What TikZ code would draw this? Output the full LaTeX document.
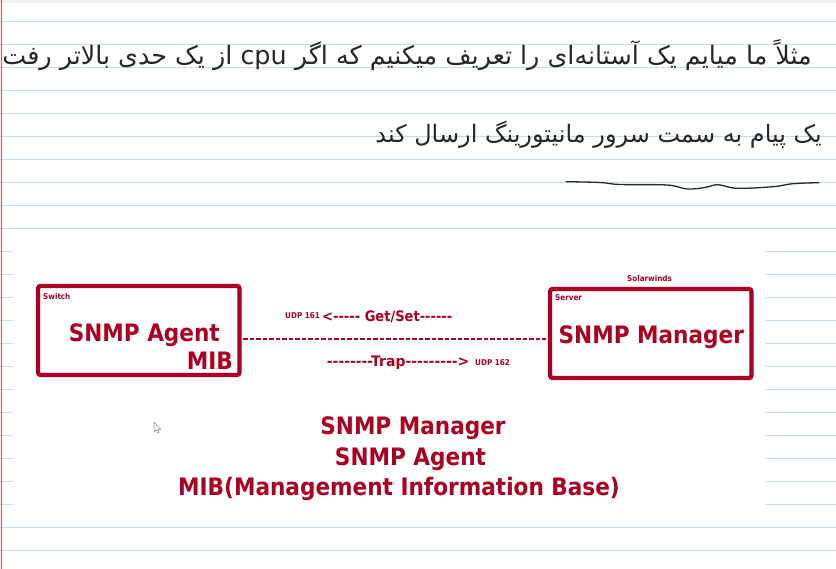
\documentclass[tikz,border=0pt]{standalone}
\usepackage{fontspec}
\TeXXeTstate=1
\newfontfamily\arabicfont[Script=Arabic]{DejaVu Sans}
\newfontfamily\lbl[FakeStretch=0.9,Ligatures=TeXOff]{DejaVu Sans}
\definecolor{snmpred}{RGB}{170,0,35}
\definecolor{ruleblue}{RGB}{188,226,248}
\definecolor{marginred}{RGB}{235,80,80}
\definecolor{ink}{RGB}{40,40,40}
\tikzset{
  netbox/.style={draw=snmpred, line width=4.3pt, rounded corners=2.5pt,
    minimum width=201.5pt, minimum height=89pt, inner sep=0pt},
  bigtxt/.style={text=snmpred, font=\lbl\bfseries\fontsize{24}{28}\selectfont, inner sep=0pt},
  smalltxt/.style={text=snmpred, font=\lbl\bfseries\fontsize{8}{9}\selectfont, inner sep=0pt},
  midtxt/.style={text=snmpred, font=\lbl\bfseries\fontsize{14.5}{16}\selectfont, inner sep=0pt},
  handtxt/.style={text=ink, font=\arabicfont\fontsize{25.4}{30}\selectfont, inner sep=0pt}
}
\begin{document}
\begin{tikzpicture}[x=1pt,y=-1pt]
\useasboundingbox (0,0) rectangle (836,569);
\fill[white] (0,0) rectangle (836,569);
\fill[black!5] (0,0) rectangle (836,3);
\foreach \k in {0,...,23}
  \draw[ruleblue, line width=1.1pt] (0,21.7+23*\k) -- (836,21.7+23*\k);
\fill[white] (13,240) rectangle (765,517);
\draw[marginred, line width=1.5pt] (1.6,0) -- (1.6,569);

% handwritten notes
\node[handtxt, anchor=east] (note1) at (812,55)
  {\beginR مثلاً ما میایم یک آستانه‌ای را تعریف میکنیم که اگر \beginL cpu\endL{} از یک حدی بالاتر رفت\endR};
\node[handtxt, anchor=east, font=\arabicfont\fontsize{24}{28}\selectfont] (note2) at (822,135)
  {\beginR یک پیام به سمت سرور مانیتورینگ ارسال کند\endR};
\draw[ink, line width=1.3pt, line cap=round] plot[smooth, tension=0.6] coordinates
  {(566,181.7) (600,182.5) (620,184.5) (667,185) (687,189) (705,187.5) (718,184.7) (737,188.3) (773,186.7) (793,183.7) (819,182.7)};

% boxes
\node[netbox] (agent) at (138.75,330.5) {};
\node[netbox] (manager) at (650.75,333.5) {};

\node[smalltxt, anchor=base west] (switch) at (43,300) {Switch};
\node[bigtxt, anchor=base east] (agentlbl) at (220,341.7) {SNMP Agent};
\node[bigtxt, anchor=base east] (miblbl) at (233,370) {MIB};
\node[smalltxt, anchor=base west] (server) at (555,301) {Server};
\node[smalltxt, anchor=base] (solar) at (649.5,282) {Solarwinds};
\node[bigtxt, anchor=base] (mgrlbl) at (651.3,344) {SNMP Manager};

% link
\coordinate (linky) at (0,339);
\draw[snmpred, line width=2.3pt, dash pattern=on 4.5pt off 2pt, shorten <=1.5pt, shorten >=1.5pt]
  (agent.east |- linky) -- (manager.west |- linky);
\node[smalltxt, anchor=base west] (udp161) at (285,319) {UDP 161};
\node[midtxt, anchor=base west] (getset) at (322,322) {<----- Get/Set------};
\node[midtxt, anchor=base west, transform shape, xscale=1.07] (trap) at (326.7,366.5) {--------Trap--------->};
\node[smalltxt, anchor=base west] (udp162) at (475,366) {UDP 162};

% summary
\node[bigtxt, anchor=base] (sum1) at (413,435) {SNMP Manager};
\node[bigtxt, anchor=base] (sum2) at (410.5,465) {SNMP Agent};
\node[bigtxt, anchor=base] (sum3) at (399,495) {MIB(Management Information Base)};

% mouse pointer
\draw[gray, fill=white, line width=0.5pt, line join=round] (154,422) -- (154,432) -- (156.3,429.8) -- (157.8,433.2) -- (159.2,432.6) -- (157.8,429.3) -- (160.8,429.3) -- cycle;
\end{tikzpicture}
\end{document}
